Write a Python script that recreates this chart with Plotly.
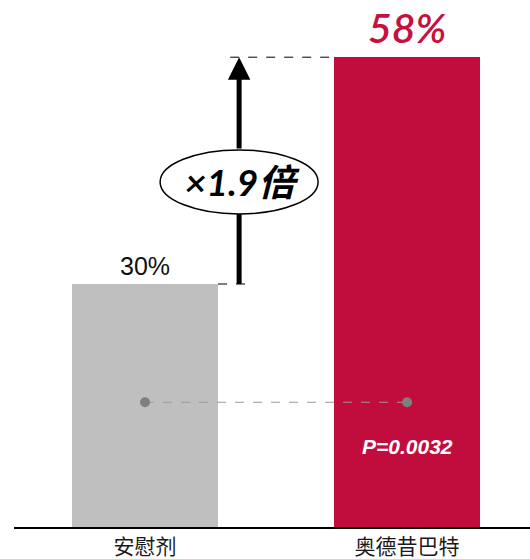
import plotly.graph_objects as go

# Data
categories = ["安慰剂", "奥德昔巴特"]
response_rates = [30, 58]
p_value_text = "P=0.0032"
bar_colors = ["#BFBFBF", "#C00D3D"]

ratio = response_rates[1] / response_rates[0]

BAR_W = 0.557
ARROW_X = 0.359
DASH_HALF = 0.034
px_per_unit = 8.1
plot_h = 527
y_top = plot_h / px_per_unit
ELL_RX, ELL_RY = 79, 32

fig = go.Figure()

fig.add_trace(go.Bar(
    x=[0, 1], y=response_rates, width=BAR_W,
    marker=dict(color=bar_colors, line=dict(width=0)),
    hoverinfo="skip", showlegend=False,
))

# comparison connector with end dots
dot_y = 15.4
fig.add_trace(go.Scatter(
    x=[0, 1], y=[dot_y, dot_y], mode="lines+markers",
    line=dict(color="#9A9A9A", width=1.2, dash="dash"),
    marker=dict(color="#7F7F7F", size=10),
    hoverinfo="skip", showlegend=False,
))

ell_y = response_rates[0] + 0.45 * (response_rates[1] - response_rates[0])

shapes = []
# dashed guide at placebo level
shapes.append(dict(type="line", xref="x", yref="y",
                   x0=BAR_W / 2, x1=ARROW_X + DASH_HALF,
                   y0=response_rates[0], y1=response_rates[0],
                   line=dict(color="black", width=1, dash="dash")))
# dashed guide at treatment level
shapes.append(dict(type="line", xref="x", yref="y",
                   x0=ARROW_X - DASH_HALF, x1=1 - BAR_W / 2,
                   y0=response_rates[1], y1=response_rates[1],
                   line=dict(color="black", width=1, dash="dash")))
# lower part of the arrow shaft (runs under the ellipse)
shapes.append(dict(type="line", xref="x", yref="y",
                   x0=ARROW_X, x1=ARROW_X, y0=response_rates[0], y1=ell_y,
                   line=dict(color="black", width=5)))
# ellipse around the ratio label
shapes.append(dict(type="circle", xref="x", yref="y",
                   xsizemode="pixel", ysizemode="pixel",
                   xanchor=ARROW_X, yanchor=ell_y,
                   x0=-ELL_RX, x1=ELL_RX, y0=-ELL_RY, y1=ELL_RY,
                   fillcolor="white", line=dict(color="black", width=1.5),
                   layer="above"))

annotations = []
# upper part of the arrow, from the ellipse up to the treatment level
annotations.append(dict(
    x=ARROW_X, y=response_rates[1], ax=ARROW_X, ay=ell_y + ELL_RY / px_per_unit,
    xref="x", yref="y", axref="x", ayref="y",
    showarrow=True, arrowhead=2, arrowsize=0.9, arrowwidth=5,
    arrowcolor="black", standoff=0, text=""))
annotations.append(dict(
    x=ARROW_X, y=ell_y, xref="x", yref="y", showarrow=False, xshift=3,
    text=f"<b><i>×{ratio:.1f}倍</i></b>",
    font=dict(family="Lato, Noto Sans CJK SC", size=37, color="black")))
# value labels
annotations.append(dict(
    x=0, y=response_rates[0], xref="x", yref="y", showarrow=False,
    yanchor="bottom", yshift=2, text=f"{response_rates[0]}%",
    font=dict(family="Liberation Sans, Arial", size=25, color="#111111")))
annotations.append(dict(
    x=1, y=response_rates[1], xref="x", yref="y", showarrow=False,
    yanchor="bottom", yshift=3, text=f"<i>{response_rates[1]}%</i>",
    font=dict(family="Lato", size=41, color="#C8103E", weight=600)))
annotations.append(dict(
    x=1, y=9.9, xref="x", yref="y", showarrow=False,
    text=f"<b><i>{p_value_text}</i></b>",
    font=dict(family="Liberation Sans, Arial", size=21, color="white")))

fig.update_layout(
    width=530, height=559,
    margin=dict(l=14, r=0, t=0, b=32),
    plot_bgcolor="white", paper_bgcolor="white",
    shapes=shapes, annotations=annotations,
    bargap=0,
    xaxis=dict(range=[-0.5, 1.469], tickvals=[0, 1], ticktext=categories,
               showline=True, linecolor="black", linewidth=2,
               showgrid=False, zeroline=False, ticks="", automargin=False,
               tickfont=dict(family="Noto Sans CJK SC", size=21, color="#1A1A1A")),
    yaxis=dict(range=[0, y_top], visible=False, showgrid=False, zeroline=False),
)

fig.write_html("out.html")
